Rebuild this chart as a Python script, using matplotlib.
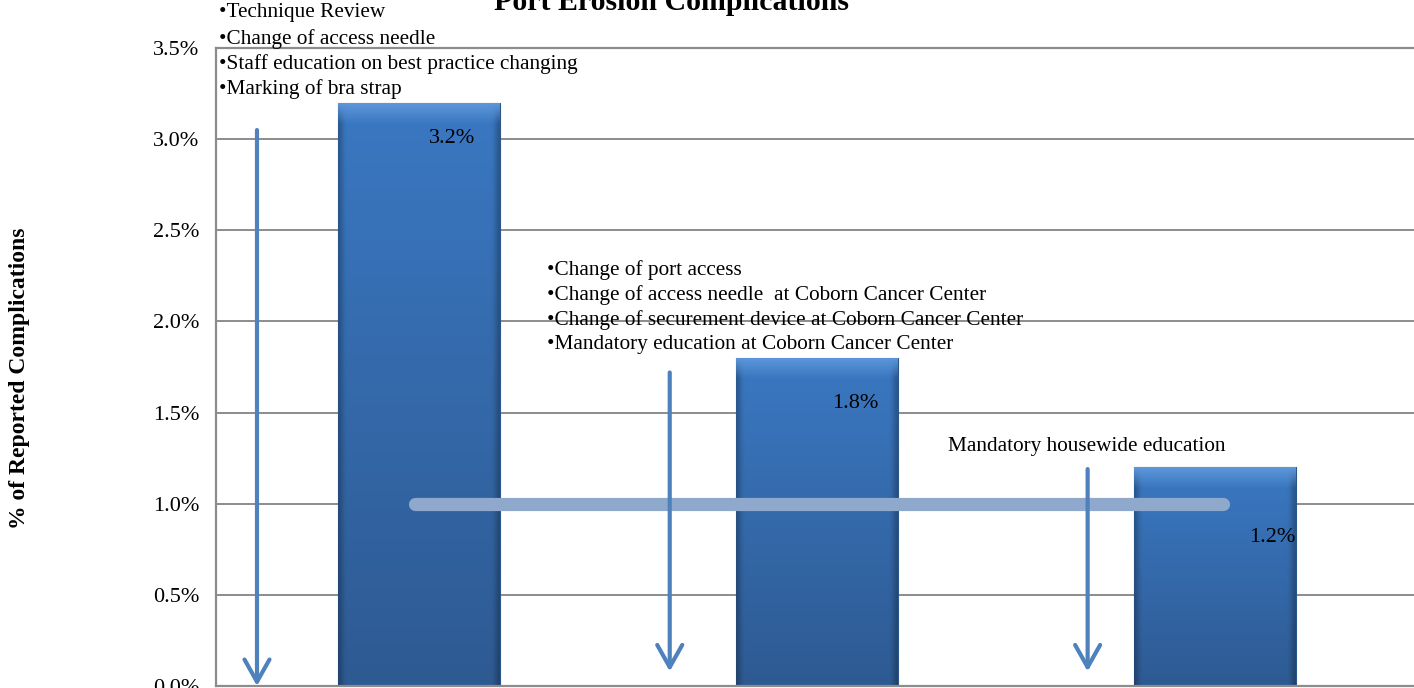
import numpy as np
import matplotlib
matplotlib.use("Agg")
import matplotlib.pyplot as plt
from matplotlib.patches import FancyArrowPatch
from matplotlib.colors import to_rgb

plt.rcParams['font.family'] = ['Liberation Serif', 'DejaVu Serif']

# ---------------- data ----------------
categories = ['Period 1', 'Period 2', 'Period 3']
values = [3.2, 1.8, 1.2]
value_labels = ['3.2%', '1.8%', '1.2%']
yticks = [0.0, 0.5, 1.0, 1.5, 2.0, 2.5, 3.0, 3.5]
ytick_labels = ['0.0%', '0.5%', '1.0%', '1.5%', '2.0%', '2.5%', '3.0%', '3.5%']
target_value = 1.0
title = 'Port Erosion Complications'
ylabel = '% of Reported Complications'
notes_first = ['\u2022Technique Review',
               '\u2022Change of access needle',
               '\u2022Staff education on best practice changing',
               '\u2022Marking of bra strap']
notes_second = ['\u2022Change of port access',
                '\u2022Change of access needle  at Coborn Cancer Center',
                '\u2022Change of securement device at Coborn Cancer Center',
                '\u2022Mandatory education at Coborn Cancer Center']
note_third = 'Mandatory housewide education'

# ---------------- figure ----------------
W, H = 1414, 688
fig = plt.figure(figsize=(W / 100, H / 100), dpi=100)
ax = fig.add_axes([216 / W, 2 / H, 1198 / W, 638 / H])
x = np.arange(len(categories))
ax.set_xlim(-0.51, 2.5)
ax.set_ylim(0, 3.5)

grid_c = '#8c8c8c'
ax.set_yticks(yticks)
ax.set_yticklabels(ytick_labels)
ax.yaxis.grid(True, color=grid_c, lw=1.4)
ax.set_axisbelow(True)
ax.set_xticks([])
ax.tick_params(axis='y', length=0, labelsize=16, pad=12)
for s in ['left', 'bottom', 'top']:
    ax.spines[s].set_color(grid_c)
    ax.spines[s].set_linewidth(1.6)
ax.spines['right'].set_visible(False)

# bars with gradient / bevel
bar_w = 0.407
bars = ax.bar(x, values, width=bar_w, color='#356bae', edgecolor='#2b5688',
              linewidth=0.8, zorder=2)
top_c = np.array(to_rgb('#3a78c2'))
bot_c = np.array(to_rgb('#2e5a92'))
for b in bars:
    nx, ny = 60, 200
    t = np.linspace(0, 1, ny)[:, None, None]  # 0 top, 1 bottom
    img = top_c * (1 - t) + bot_c * t
    img = np.repeat(img, nx, axis=1)
    xx = np.linspace(0, 1, nx)
    edge = np.clip(1 - np.minimum(xx, 1 - xx) / 0.04, 0, 1)[None, :, None]
    img = img * (1 - 0.25 * edge)
    toprow = np.clip(1 - np.linspace(0, 1, ny) / (0.035 * 3.2 / b.get_height()), 0, 1)[:, None, None]
    img = img * (1 - toprow) + np.array(to_rgb('#5d97da')) * toprow
    bx, by = b.get_x(), b.get_y()
    im = ax.imshow(img, extent=[bx, bx + b.get_width(), by, by + b.get_height()],
                   aspect='auto', zorder=2.1, interpolation='bilinear')
    im.set_clip_path(b)
ax.set_xlim(-0.51, 2.5)
ax.set_ylim(0, 3.5)

# value labels
label_pos = [(0.083, 3.006), (1.097, 1.552), (2.144, 0.817)]
for (lx, ly), s in zip(label_pos, value_labels):
    ax.text(lx, ly, s, ha='center', va='center', fontsize=16, color='black', zorder=5)

# target line
ax.plot([-0.01, 2.02], [target_value, target_value], color='#8ea9cc', lw=9.5,
        solid_capstyle='round', zorder=3)

# arrows
arrow_spec = [(-0.407, 3.05, 0.0), (0.63, 1.72, 0.08), (1.68, 1.19, 0.08)]
for axx, ytop, ytip in arrow_spec:
    arr = FancyArrowPatch((axx, ytop), (axx, ytip),
                          arrowstyle='->,head_length=0.8,head_width=0.45',
                          mutation_scale=20, lw=3, color='#4f81bd',
                          shrinkA=0, shrinkB=0, zorder=4, clip_on=False)
    ax.add_patch(arr)

# notes
fs_note = 15.3
for s, py in zip(notes_first, [12, 39, 64, 89]):
    fig.text(219 / W, 1 - py / H, s, ha='left', va='center', fontsize=fs_note)
for s, py in zip(notes_second, [270, 295, 320, 345]):
    fig.text(547 / W, 1 - py / H, s, ha='left', va='center', fontsize=fs_note)
fig.text(948 / W, 1 - 446 / H, note_third, ha='left', va='center', fontsize=fs_note)

# title and y label
fig.text(671 / W, 1 - 10 / H, title, ha='center', va='baseline',
         fontsize=21.5, fontweight='bold')
fig.text(20 / W, 1 - 378 / H, ylabel, ha='center', va='center', rotation=90,
         fontsize=17, fontweight='bold')

fig.savefig('out.png', dpi=100)
